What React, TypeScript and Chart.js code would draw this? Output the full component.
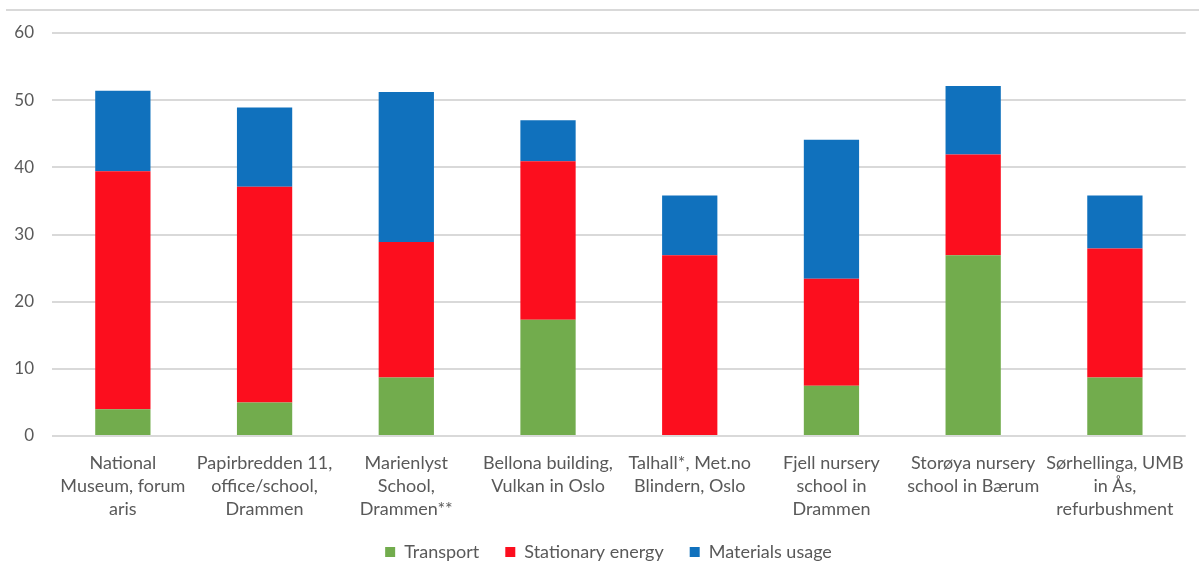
import React, { useEffect, useRef } from 'react';
import { Chart, registerables } from 'chart.js';

Chart.register(...registerables);

const categories: string[][] = [
  ['National', 'Museum, forum', 'aris'],
  ['Papirbredden 11,', 'office/school,', 'Drammen'],
  ['Marienlyst', 'School,', 'Drammen**'],
  ['Bellona building,', 'Vulkan in Oslo'],
  ['Talhall*, Met.no', 'Blindern, Oslo'],
  ['Fjell nursery', 'school in', 'Drammen'],
  ['Storøya nursery', 'school in Bærum'],
  ['Sørhellinga, UMB', 'in Ås,', 'refurbushment'],
];

const transport = [4.0, 5.0, 8.7, 17.3, 0, 7.5, 26.9, 8.7];
const stationaryEnergy = [35.4, 32.1, 20.2, 23.6, 26.9, 15.9, 15.0, 19.2];
const materialsUsage = [12.0, 11.8, 22.3, 6.1, 8.9, 20.7, 10.2, 7.9];

const seriesNames = ['Transport', 'Stationary energy', 'Materials usage'];
const yMin = 0;
const yMax = 60;
const yStep = 10;

const FONT = 'Lato, "Open Sans", sans-serif';
const TEXT = '#595959';

export default function App() {
  const ref = useRef<HTMLCanvasElement | null>(null);

  useEffect(() => {
    if (!ref.current) return;
    const legendShift = {
      id: 'legendShift',
      afterLayout(chart: any) {
        const l = chart.legend;
        if (l) {
          l.left += 12;
          l.right += 12;
        }
      },
    };
    const chart = new Chart(ref.current, {
      type: 'bar',
      data: {
        labels: categories,
        datasets: [
          { label: seriesNames[0], data: transport, backgroundColor: '#72AC4D', borderWidth: 0 },
          { label: seriesNames[1], data: stationaryEnergy, backgroundColor: '#FC0E1E', borderWidth: 0 },
          { label: seriesNames[2], data: materialsUsage, backgroundColor: '#1071BD', borderWidth: 0 },
        ],
      },
      options: {
        animation: false,
        responsive: true,
        maintainAspectRatio: false,
        layout: { padding: { top: 33, right: 6, left: 0, bottom: 0 } },
        datasets: { bar: { categoryPercentage: 1, barPercentage: 0.39 } },
        plugins: {
          tooltip: { enabled: false },
          legend: {
            position: 'bottom',
            labels: {
              boxWidth: 10,
              boxHeight: 10,
              padding: 26,
              color: TEXT,
              font: { family: FONT, size: 18 },
            },
          },
        },
        scales: {
          x: {
            stacked: true,
            afterFit: (s: any) => { s.height = 81; },
            grid: { display: false, drawTicks: false },
            border: { display: false },
            ticks: {
              autoSkip: false,
              maxRotation: 0,
              minRotation: 0,
              padding: 15,
              color: TEXT,
              font: { family: FONT, size: 18, lineHeight: 1.3 },
            },
          },
          y: {
            stacked: true,
            min: yMin,
            max: yMax,
            afterFit: (s: any) => { s.width = 52; },
            grid: { color: '#D9D9D9', lineWidth: 2, drawTicks: false },
            border: { display: false },
            ticks: {
              stepSize: yStep,
              padding: 18,
              color: TEXT,
              font: { family: FONT, size: 17 },
            },
          },
        },
      },
      plugins: [legendShift],
    });
    return () => chart.destroy();
  }, []);

  return (
    <div style={{ position: 'fixed', left: 0, top: 0, width: 1199, height: 571, background: '#fff' }}>
      <div style={{ position: 'absolute', left: 6, top: 9, width: 1193, height: 2, background: '#D9D9D9' }} />
      <canvas ref={ref} />
    </div>
  );
}
